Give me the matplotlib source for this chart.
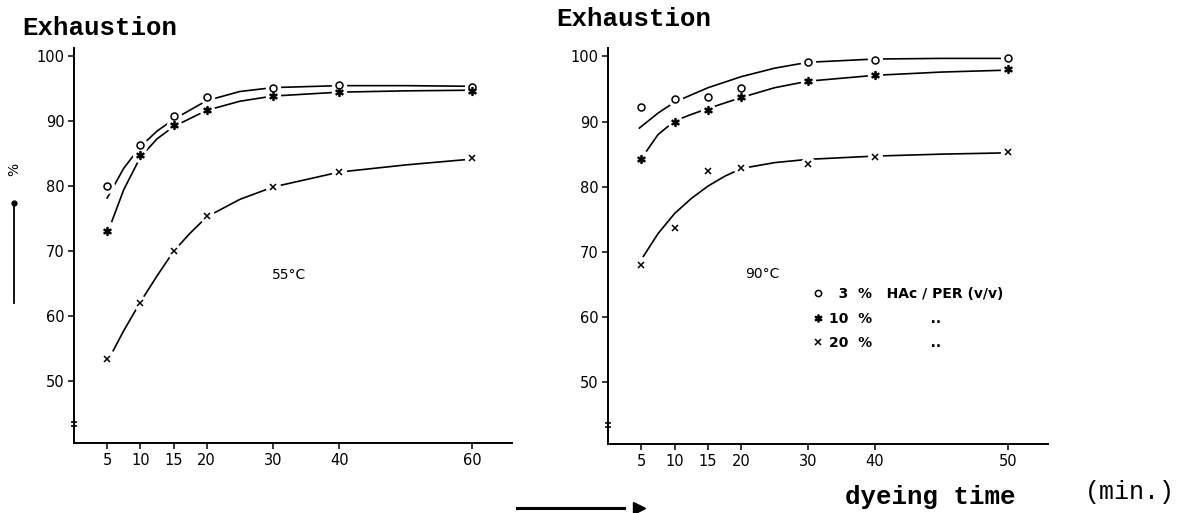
import matplotlib.pyplot as plt
from matplotlib.lines import Line2D

# measured points (x = dyeing time, min)
times = [5, 10, 15, 20, 30, 40, 60]
x_labels_55 = ["5", "10", "15", "20", "30", "40", "60"]
x_labels_90 = ["5", "10", "15", "20", "30", "40", "50"]

ex55_3 = [80.0, 86.3, 90.8, 93.8, 95.2, 95.6, 95.3]
ex55_10 = [73.2, 84.8, 89.4, 91.7, 93.9, 94.5, 94.7]
ex55_20 = [53.4, 62.0, 70.1, 75.4, 79.9, 82.2, 84.3]

ex90_3 = [92.2, 93.4, 93.7, 95.1, 99.2, 99.5, 99.7]
ex90_10 = [84.3, 90.0, 91.8, 93.7, 96.3, 97.1, 98.0]
ex90_20 = [68.0, 73.7, 82.4, 82.9, 83.5, 84.6, 85.3]

# hand drawn curves
c55_3_t = [5, 7.5, 10, 12.5, 15, 20, 25, 30, 40, 50, 60]
c55_3_y = [78.2, 82.8, 86.1, 88.5, 90.3, 93.2, 94.6, 95.2, 95.5, 95.5, 95.4]
c55_10_t = [5.7, 7.5, 10, 12.5, 15, 20, 25, 30, 40, 50, 60]
c55_10_y = [74.6, 79.5, 84.5, 87.3, 89.2, 91.7, 93.1, 93.9, 94.5, 94.7, 94.8]
c55_20_t = [5.9, 7.5, 10, 12.5, 15, 17.5, 20, 25, 30, 40, 50, 60]
c55_20_y = [54.7, 57.8, 62.2, 66.2, 70.0, 72.8, 75.3, 78.0, 79.9, 82.2, 83.3, 84.2]

c90_3_t = [4.7, 7.5, 10, 15, 20, 25, 30, 40, 50, 60]
c90_3_y = [89.0, 91.3, 93.0, 95.2, 96.9, 98.2, 99.1, 99.6, 99.7, 99.7]
c90_10_t = [5.8, 7.5, 10, 12.5, 15, 20, 25, 30, 40, 50, 60]
c90_10_y = [85.5, 88.0, 90.1, 91.1, 92.0, 93.7, 95.2, 96.2, 97.1, 97.6, 97.9]
c90_20_t = [5.3, 7.5, 10, 12.5, 15, 17.5, 20, 25, 30, 40, 50, 60]
c90_20_y = [69.3, 72.8, 75.9, 78.2, 80.1, 81.6, 82.8, 83.7, 84.2, 84.7, 85.0, 85.2]

legend_labels = ["\u20073  %   HAc / PER (v/v)", "10  %            ..", "20  %            .."]

mono = "Liberation Mono"
markers = [("o", 5, "white"), ("$\\ast$", 5.5, "black"), ("x", 4.5, "black")]


def draw_panel(ax, pts, curves, xlabels, temp, temp_pos):
    for (ct, cy) in curves:
        ax.plot(ct, cy, color="black", lw=1.2, zorder=2)
    handles = []
    for y, (m, ms, fc) in zip(pts, markers):
        # white halo under the marker gives the broken-line look
        ax.plot(times, y, ls="none", marker="o", ms=10, mfc="white", mec="white", zorder=3)
        ax.plot(times, y, ls="none", marker=m, ms=ms, mfc=fc, mec="black", mew=1.1, zorder=4)
        handles.append(Line2D([], [], ls="none", marker=m, ms=ms - 0.5, mfc=fc, mec="black", mew=1.1))
    ax.set_xlim(0, 66)
    ax.set_ylim(40.5, 101.3)
    ax.set_yticks([50, 60, 70, 80, 90, 100])
    ax.set_xticks(times)
    ax.set_xticklabels(xlabels)
    ax.spines["top"].set_visible(False)
    ax.spines["right"].set_visible(False)
    ax.spines["left"].set_linewidth(1.4)
    ax.spines["bottom"].set_linewidth(1.4)
    ax.tick_params(direction="out", length=4, width=1.1, labelsize=10.5, pad=3)
    ax.text(temp_pos[0], temp_pos[1], temp, transform=ax.transAxes, ha="center", va="center",
            fontsize=10)
    ax.plot([0, 0], [43.1, 43.8], ls="none", marker="_", ms=4, color="black", mew=1.2, clip_on=False)
    return handles


fig = plt.figure(figsize=(11.88, 5.13), dpi=100)
ax1 = fig.add_axes([0.0623, 0.1365, 0.3687, 0.77])
ax2 = fig.add_axes([0.5118, 0.1345, 0.3704, 0.772])

draw_panel(ax1, [ex55_3, ex55_10, ex55_20],
           [(c55_3_t, c55_3_y), (c55_10_t, c55_10_y), (c55_20_t, c55_20_y)],
           x_labels_55, "55°C", (0.49, 0.425))
handles = draw_panel(ax2, [ex90_3, ex90_10, ex90_20],
                     [(c90_3_t, c90_3_y), (c90_10_t, c90_10_y), (c90_20_t, c90_20_y)],
                     x_labels_90, "90°C", (0.35, 0.43))

ax2.legend(handles, legend_labels, loc="upper left", bbox_to_anchor=(0.455, 0.41),
           frameon=False, handlelength=0.6, handletextpad=0.5, labelspacing=0.75,
           borderaxespad=0, prop={"size": 10, "weight": "bold"})

fig.text(0.019, 0.945, "Exhaustion", family=mono, weight="bold", fontsize=18.5, va="center")
fig.text(0.468, 0.963, "Exhaustion", family=mono, weight="bold", fontsize=18.5, va="center")
fig.text(0.711, 0.031, "dyeing time", family=mono, weight="bold", fontsize=18.5, va="center")
fig.text(0.913, 0.04, "(min.)", family=mono, fontsize=18, va="center")
fig.text(0.012, 0.67, "%", rotation=90, fontsize=10, va="center", ha="center")

# axis arrows
fig.add_artist(Line2D([0.0115, 0.0115], [0.41, 0.605], color="black", lw=1.3,
                      marker="o", markevery=[1], ms=3.5))
fig.add_artist(Line2D([0.435, 0.525], [0.01, 0.01], color="black", lw=2.2))
fig.add_artist(Line2D([0.538], [0.01], color="black", marker=">", ms=8, ls="none"))

fig.savefig("out.png", dpi=100)
